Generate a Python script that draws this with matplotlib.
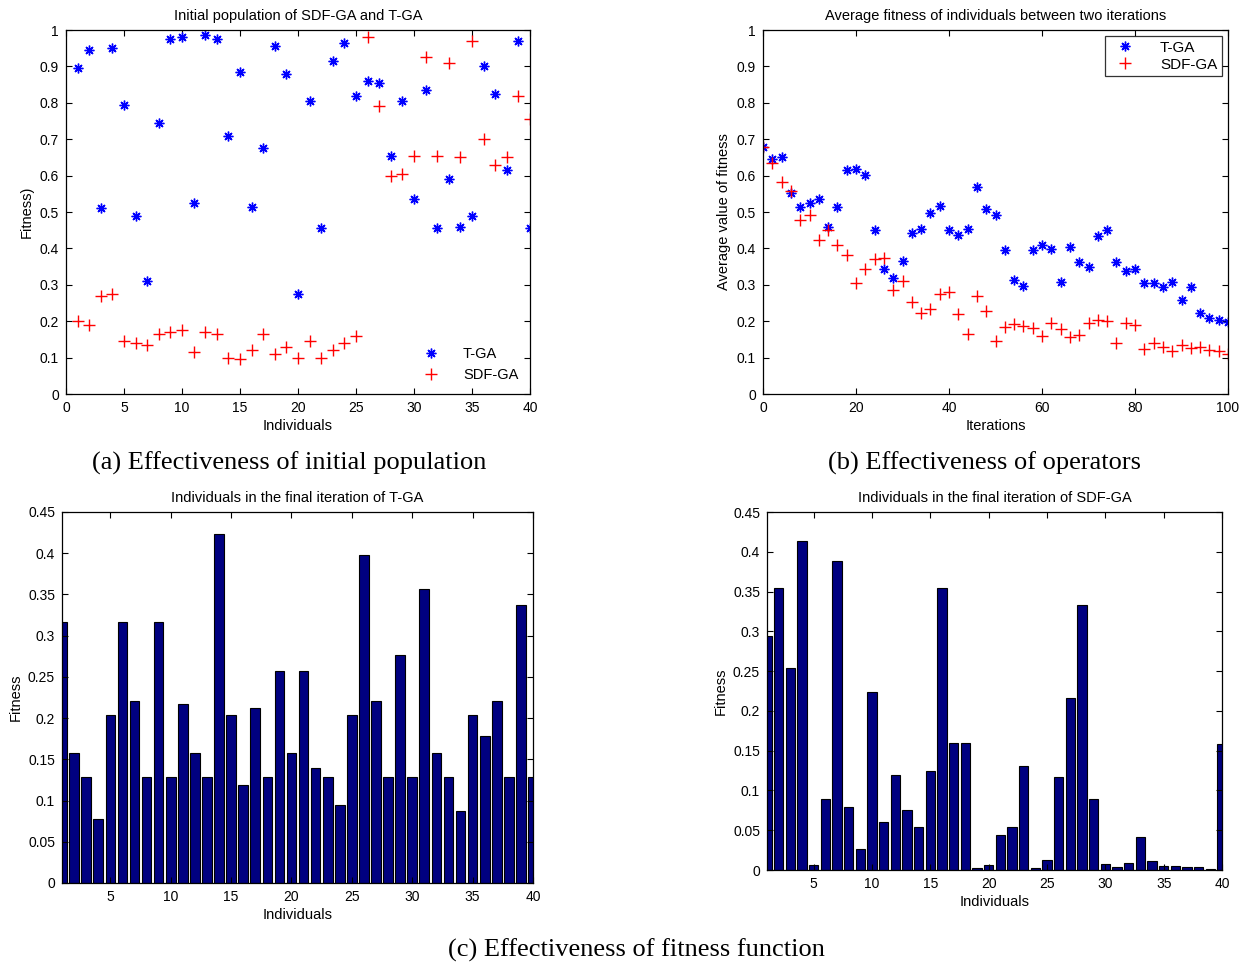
import matplotlib
matplotlib.use("Agg")
import matplotlib.pyplot as plt
import numpy as np

plt.rcParams["font.family"] = ["Liberation Sans", "DejaVu Sans"]

# (a) initial population
individuals = np.arange(1, 41)
init_tga = [0.895, 0.945, 0.51, 0.95, 0.795, 0.49, 0.31, 0.745, 0.975, 0.98,
            0.525, 0.985, 0.975, 0.71, 0.885, 0.515, 0.675, 0.955, 0.88, 0.275,
            0.805, 0.455, 0.915, 0.965, 0.82, 0.86, 0.855, 0.655, 0.805, 0.535,
            0.835, 0.455, 0.59, 0.46, 0.49, 0.9, 0.825, 0.615, 0.97, 0.455]
init_sdf = [0.2, 0.19, 0.27, 0.275, 0.145, 0.14, 0.135, 0.165, 0.17, 0.175,
            0.115, 0.17, 0.165, 0.1, 0.095, 0.12, 0.165, 0.11, 0.13, 0.1,
            0.145, 0.1, 0.12, 0.14, 0.16, 0.98, 0.79, 0.6, 0.605, 0.655,
            0.925, 0.655, 0.91, 0.65, 0.97, 0.7, 0.63, 0.65, 0.82, 0.755]

# (b) average fitness over iterations
iterations = np.arange(0, 101, 2)
avg_tga = [0.678, 0.645, 0.65, 0.553, 0.513, 0.524, 0.535, 0.46, 0.513, 0.615,
           0.617, 0.602, 0.45, 0.343, 0.318, 0.366, 0.441, 0.453, 0.498, 0.516,
           0.45, 0.437, 0.453, 0.57, 0.507, 0.492, 0.397, 0.313, 0.298, 0.397,
           0.409, 0.399, 0.307, 0.405, 0.362, 0.35, 0.435, 0.45, 0.364, 0.339,
           0.343, 0.306, 0.304, 0.293, 0.307, 0.258, 0.295, 0.223, 0.208, 0.202,
           0.199]
avg_sdf = [0.678, 0.634, 0.583, 0.559, 0.478, 0.492, 0.423, 0.45, 0.409, 0.382,
           0.304, 0.343, 0.37, 0.375, 0.286, 0.311, 0.254, 0.223, 0.233, 0.275,
           0.281, 0.219, 0.164, 0.27, 0.228, 0.146, 0.185, 0.192, 0.188, 0.18,
           0.159, 0.196, 0.179, 0.156, 0.162, 0.196, 0.203, 0.2, 0.139, 0.196,
           0.19, 0.125, 0.139, 0.13, 0.119, 0.135, 0.127, 0.13, 0.121, 0.119,
           0.11]

# (c) final iteration
final_tga = [0.317, 0.158, 0.128, 0.077, 0.204, 0.317, 0.221, 0.128, 0.317, 0.128,
             0.217, 0.158, 0.128, 0.423, 0.204, 0.119, 0.212, 0.128, 0.257, 0.158,
             0.257, 0.139, 0.128, 0.094, 0.204, 0.398, 0.221, 0.128, 0.277, 0.128,
             0.356, 0.158, 0.128, 0.087, 0.204, 0.178, 0.221, 0.128, 0.337, 0.128]
final_sdf = [0.294, 0.354, 0.254, 0.413, 0.006, 0.089, 0.389, 0.079, 0.026, 0.224,
             0.06, 0.12, 0.075, 0.054, 0.124, 0.354, 0.16, 0.16, 0.003, 0.006,
             0.044, 0.054, 0.131, 0.003, 0.012, 0.117, 0.216, 0.333, 0.089, 0.007,
             0.004, 0.009, 0.042, 0.011, 0.005, 0.005, 0.004, 0.004, 0.001, 0.158]

unit_ticks = np.round(np.arange(0, 1.01, 0.1), 1)
unit_labels = ["0"] + [f"{v:g}" for v in unit_ticks[1:-1]] + ["1"]
bar_ticks = np.round(np.arange(0, 0.451, 0.05), 2)
bar_labels = ["0"] + [f"{v:g}" for v in bar_ticks[1:]]

AST = (8, 2, 0)
BLUE = "#0000ff"
RED = "#ff0000"
NAVY = "#000080"


def style(ax):
    ax.tick_params(direction="in", top=True, right=True, labelsize=10,
                   length=4, width=0.8, pad=5)
    for s in ax.spines.values():
        s.set_linewidth(0.9)


fig = plt.figure(figsize=(12.48, 9.65), dpi=100)

# --- (a)
ax1 = fig.add_axes([0.0529, 0.5917, 0.3718, 0.3772])
ax1.plot(individuals, init_tga, ls="none", marker=AST, ms=7, mew=1.0,
         color=BLUE, label="T-GA")
ax1.plot(individuals, init_sdf, ls="none", marker="+", ms=8, mew=1.0,
         color=RED, label="SDF-GA")
ax1.set_xlim(0, 40)
ax1.set_ylim(0, 1)
ax1.set_xticks(np.arange(0, 41, 5))
ax1.set_yticks(unit_ticks)
ax1.set_yticklabels(unit_labels)
ax1.set_xlabel("Individuals", fontsize=10.5, labelpad=3)
ax1.set_ylabel("Fitness)", fontsize=10.5, labelpad=4)
ax1.set_title("Initial population of SDF-GA and T-GA", fontsize=10.5, pad=7.5)
ax1.legend(loc="lower right", frameon=False, fontsize=10.5,
           handletextpad=1.2, borderaxespad=0.4)
style(ax1)

# --- (b)
ax2 = fig.add_axes([0.6114, 0.5917, 0.3726, 0.3772])
ax2.plot(iterations, avg_tga, ls="none", marker=AST, ms=7, mew=1.0,
         color=BLUE, label="T-GA")
ax2.plot(iterations, avg_sdf, ls="none", marker="+", ms=8, mew=1.0,
         color=RED, label="SDF-GA")
ax2.set_xlim(0, 100)
ax2.set_ylim(0, 1)
ax2.set_xticks(np.arange(0, 101, 20))
ax2.set_yticks(unit_ticks)
ax2.set_yticklabels(unit_labels)
ax2.set_xlabel("Iterations", fontsize=10.5, labelpad=3)
ax2.set_ylabel("Average value of fitness", fontsize=10.5, labelpad=4)
ax2.set_title("Average fitness of individuals between two iterations",
              fontsize=10.5, pad=7.5)
leg = ax2.legend(loc="upper right", frameon=True, fancybox=False,
                 fontsize=11, handletextpad=1.3, borderaxespad=0.4,
                 borderpad=0.3, labelspacing=0.2)
leg.get_frame().set_edgecolor("black")
leg.get_frame().set_linewidth(0.9)
style(ax2)

# --- (c) left
ax3 = fig.add_axes([0.0497, 0.085, 0.3774, 0.3845])
ax3.bar(individuals, final_tga, width=0.8, color=NAVY, edgecolor="black",
        linewidth=0.8)
ax3.set_xlim(1, 40)
ax3.set_ylim(0, 0.45)
ax3.set_xticks(np.arange(5, 41, 5))
ax3.set_yticks(bar_ticks)
ax3.set_yticklabels(bar_labels)
ax3.set_xlabel("Individuals", fontsize=10.5, labelpad=3)
ax3.set_ylabel("Fitness", fontsize=10.5, labelpad=4)
ax3.set_title("Individuals in the final iteration of T-GA", fontsize=10.5,
              pad=7.5)
style(ax3)

# --- (c) right
ax4 = fig.add_axes([0.6146, 0.0984, 0.3646, 0.371])
ax4.bar(individuals, final_sdf, width=0.8, color=NAVY, edgecolor="black",
        linewidth=0.8)
ax4.set_xlim(1, 40)
ax4.set_ylim(0, 0.45)
ax4.set_xticks(np.arange(5, 41, 5))
ax4.set_yticks(bar_ticks)
ax4.set_yticklabels(bar_labels)
ax4.set_xlabel("Individuals", fontsize=10.5, labelpad=3)
ax4.set_ylabel("Fitness", fontsize=10.5, labelpad=4)
ax4.set_title("Individuals in the final iteration of SDF-GA", fontsize=10.5,
              pad=7.5)
style(ax4)

# captions
cap = dict(fontsize=19, family=["Liberation Serif", "DejaVu Serif"],
           ha="center", va="center")
fig.text(289 / 1248, 1 - 463 / 965, "(a) Effectiveness of initial population", **cap)
fig.text(985 / 1248, 1 - 463 / 965, "(b) Effectiveness of operators", **cap)
fig.text(636 / 1248, 1 - 950 / 965, "(c) Effectiveness of fitness function", **cap)

fig.savefig("out.png", dpi=100, facecolor="white")
